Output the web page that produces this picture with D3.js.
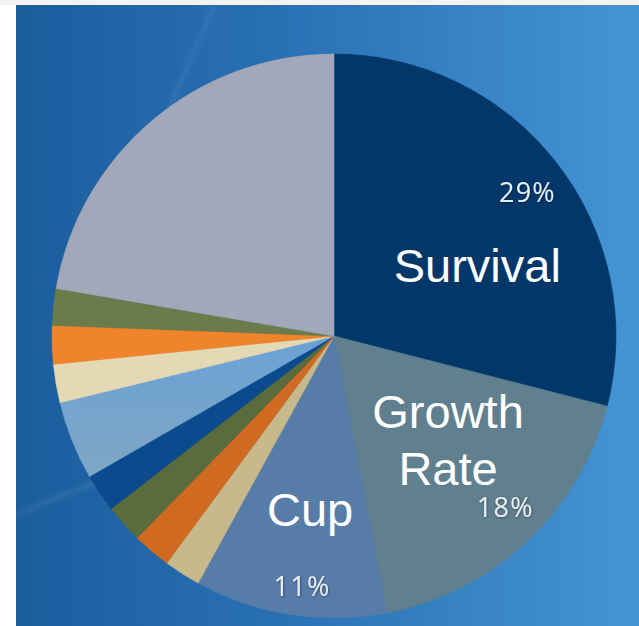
<!DOCTYPE html>
<html>
<head>
<meta charset="utf-8">
<script src="https://cdn.jsdelivr.net/npm/d3@7"></script>
<style>
  html, body { margin: 0; padding: 0; background: #ffffff; }
  svg { display: block; }
</style>
</head>
<body>
<script>
// Share of each trait, in percent, clockwise from 12 o'clock
const categories = ["Survival", "Growth Rate", "Cup", "Other 1", "Other 2", "Other 3",
                    "Other 4", "Other 5", "Other 6", "Other 7", "Other 8", "Other 9"];
const shares = [29, 18, 11, 2.1, 2.2, 2.2, 2.2, 4.5, 2.2, 2.2, 2.1, 22.3];
const sliceColors = ["#023869", "#61808f", "#577ca8", "#c8b98c", "#d06a20", "#5a6b3e",
                     "#0b4a8c", "#70a3d0", "#e3d9b4", "#f0842a", "#6b7b4b", "#a2a7ba"];
// Slices that carry a name and a percentage
const labelled = ["Survival", "Growth Rate", "Cup"];

const W = 639, H = 626;
const cx = 334, cy = 336, R = 282;

const svg = d3.select("body").append("svg")
  .attr("width", W).attr("height", H);

const defs = svg.append("defs");
const bg = defs.append("linearGradient").attr("id", "bg")
  .attr("x1", "0").attr("y1", "0").attr("x2", "1").attr("y2", "0");
bg.append("stop").attr("offset", "0").attr("stop-color", "#1b5d9d");
bg.append("stop").attr("offset", "0.45").attr("stop-color", "#2a72b5");
bg.append("stop").attr("offset", "1").attr("stop-color", "#4594d4");

const soft = defs.append("filter").attr("id", "soft");
soft.append("feGaussianBlur").attr("stdDeviation", 2.5);

const shadow = defs.append("filter").attr("id", "shadow")
  .attr("x", "-20%").attr("y", "-20%").attr("width", "140%").attr("height", "140%");
shadow.append("feDropShadow").attr("dx", 0.6).attr("dy", 0.6)
  .attr("stdDeviation", 0.8).attr("flood-color", "#000").attr("flood-opacity", 0.45);

// light glare across the pale-blue slice
const glare = defs.append("linearGradient").attr("id", "glare")
  .attr("x1", "0").attr("y1", "0").attr("x2", "0").attr("y2", "1");
glare.append("stop").attr("offset", "0").attr("stop-color", "#6aa2d6");
glare.append("stop").attr("offset", "1").attr("stop-color", "#7fa6c4");

// thin light strip along the top, then the blue panel
svg.append("rect").attr("x", 0).attr("y", 0).attr("width", W).attr("height", 5)
  .attr("fill", "#f3f3f3");
svg.append("rect").attr("x", 16).attr("y", 5).attr("width", W - 16).attr("height", H - 5)
  .attr("fill", "url(#bg)");

// faint light streaks in the panel
const streaks = svg.append("g").attr("filter", "url(#soft)").attr("fill", "none")
  .attr("stroke", "#bcd8f0").attr("stroke-opacity", 0.16).attr("stroke-width", 3);
streaks.append("path").attr("d", "M16,515 Q60,495 110,478");
streaks.append("path").attr("d", "M215,5 Q190,60 160,130");

// pie
const pie = d3.pie().sort(null).value(d => d.value);
const table = categories.map((c, i) => ({ name: c, value: shares[i] }));
const arcs = pie(table);
const color = d3.scaleOrdinal().domain(categories).range(sliceColors);
const arc = d3.arc().innerRadius(0).outerRadius(R);

const g = svg.append("g").attr("transform", `translate(${cx},${cy})`);
g.selectAll("path.slice").data(arcs).join("path")
  .attr("class", "slice")
  .attr("d", arc)
  .attr("fill", d => d.data.name === "Other 5" ? "url(#glare)" : color(d.data.name))
  .attr("stroke", d => color(d.data.name))
  .attr("stroke-width", 0.6);

// polar helper: angle measured clockwise from 12 o'clock
const polar = (a, r) => [r * Math.sin(a), -r * Math.cos(a)];
const mid = d => (d.startAngle + d.endAngle) / 2;

// percentage labels near the rim
const pctFmt = v => d3.format(".0f")(v) + "%";
const pctPlace = { "Survival": [0.855, 0.02], "Growth Rate": [0.86, -0.03], "Cup": [0.895, -0.03] };
g.selectAll("text.pct").data(arcs.filter(d => labelled.includes(d.data.name))).join("text")
  .attr("class", "pct")
  .attr("transform", d => {
    const p = pctPlace[d.data.name];
    const [x, y] = polar(mid(d) + p[1], R * p[0]);
    return `translate(${x},${y})`;
  })
  .attr("text-anchor", "middle")
  .attr("dy", "0.36em")
  .attr("font-family", "'Open Sans', 'Noto Sans', sans-serif")
  .attr("font-size", 27)
  .attr("letter-spacing", 1.2)
  .attr("fill", "#e9eef4")
  .attr("filter", "url(#shadow)")
  .text(d => pctFmt(d.value));

// category names inside the slices
const namePlace = { "Survival": [0.567, 0.2], "Growth Rate": [0.546, -0.08], "Cup": [0.62, -0.02] };
const names = g.selectAll("text.name").data(arcs.filter(d => labelled.includes(d.data.name))).join("text")
  .attr("class", "name")
  .attr("transform", d => {
    const p = namePlace[d.data.name];
    const [x, y] = polar(mid(d) + p[1], R * p[0]);
    return `translate(${x},${y})`;
  })
  .attr("text-anchor", "middle")
  .attr("font-family", "'Liberation Sans', Arial, sans-serif")
  .attr("font-size", 47)
  .attr("fill", "#ffffff");

names.each(function(d) {
  const words = d.data.name.split(" ");
  const t = d3.select(this);
  const lh = 57;
  const first = -((words.length - 1) * lh) / 2;
  words.forEach((w, i) => {
    t.append("tspan").attr("x", 0)
      .attr("y", first + i * lh)
      .attr("dy", "0.36em")
      .text(w);
  });
});
</script>
</body>
</html>
